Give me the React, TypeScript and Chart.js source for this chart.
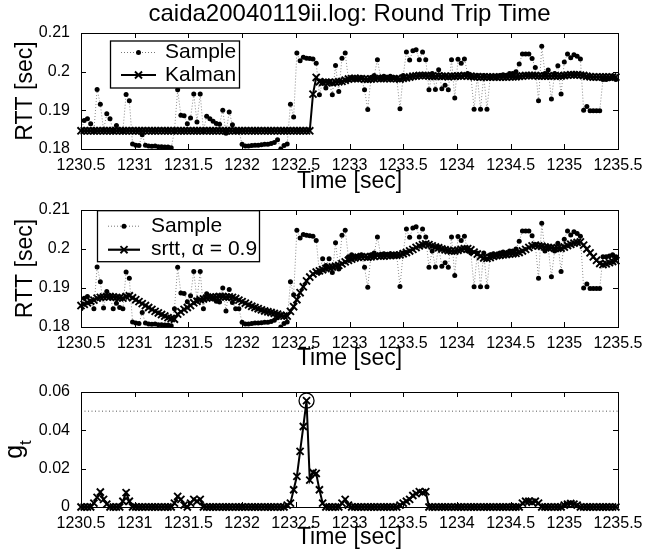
import React, { useEffect, useRef } from "react";
import { Chart, registerables } from "chart.js";

Chart.register(...registerables);
Chart.defaults.font.family = '"Liberation Sans", Arial, Helvetica, sans-serif';
Chart.defaults.color = "#000";

// ---------------- data ----------------
const TITLE = "caida20040119ii.log: Round Trip Time";
const X_LABEL = "Time [sec]";
const RTT_LABEL = "RTT [sec]";
const X_MIN = 1230.5;
const X_MAX = 1235.5;
const X_STEP = 0.5;
const SAMPLE_START = 1230.5;
const SAMPLE_STEP = 0.03;
const RTT_MIN = 0.18;
const RTT_MAX = 0.21;
const RTT_STEP = 0.01;
const G_MIN = 0;
const G_MAX = 0.06;
const G_STEP = 0.02;
const G_THRESHOLD = 0.05;

const sampleRtt = [
  0.1847, 0.1874, 0.1878, 0.1865, 0.1847, 0.1954, 0.1916, 0.1849, 0.1891, 0.1878,
  0.1847, 0.1861, 0.1850, 0.1847, 0.1941, 0.1925, 0.1813, 0.1810, 0.1809, 0.1837,
  0.1810, 0.1808, 0.1807, 0.1808, 0.1806, 0.1806, 0.1805, 0.1805, 0.1803, 0.1847,
  0.1953, 0.1887, 0.1886, 0.1865, 0.1880, 0.1942, 0.1870, 0.1942, 0.1847, 0.1885,
  0.1878, 0.1872, 0.1866, 0.1864, 0.1900, 0.1841, 0.1896, 0.1863, 0.1847, 0.1847,
  0.1812, 0.1808, 0.1808, 0.1809, 0.1810, 0.1810, 0.1811, 0.1812, 0.1812, 0.1814,
  0.1817, 0.1824, 0.1800, 0.1809, 0.1813, 0.1916, 0.1883, 0.2048, 0.2028, 0.2037,
  0.2035, 0.2034, 0.2033, 0.2022, 0.1940, 0.1975, 0.1958, 0.1975, 0.1940, 0.2016,
  0.1949, 0.2035, 0.2048, 0.1980, 0.1985, 0.1980, 0.1982, 0.1985, 0.1953, 0.1902,
  0.1985, 0.1990, 0.2031, 0.1985, 0.1988, 0.1985, 0.1988, 0.1985, 0.1983, 0.1904,
  0.1990, 0.2051, 0.2030, 0.2054, 0.2057, 0.2031, 0.2051, 0.2031, 0.1953, 0.1995,
  0.1954, 0.2005, 0.1956, 0.1965, 0.1953, 0.2031, 0.1932, 0.2032, 0.2022, 0.2033,
  0.1995, 0.1990, 0.1903, 0.1990, 0.1903, 0.1990, 0.1903, 0.1985, 0.1988, 0.1985,
  0.1990, 0.1992, 0.1990, 0.1995, 0.1995, 0.2000, 0.2020, 0.2046, 0.2046, 0.2046,
  0.2034, 0.2011, 0.1925, 0.2066, 0.1995, 0.2004, 0.1929, 0.1995, 0.2015, 0.1942,
  0.2025, 0.2046, 0.2036, 0.2044, 0.2040, 0.2033, 0.1900, 0.1910, 0.1899, 0.1899,
  0.1899, 0.1899, 0.1980, 0.1980, 0.1982, 0.1985, 0.1980,
];

const kalmanRtt = [
  0.1847, 0.1847, 0.1847, 0.1847, 0.1847, 0.1847, 0.1847, 0.1847,
  0.1847, 0.1847, 0.1847, 0.1847, 0.1847, 0.1847, 0.1847, 0.1847,
  0.1847, 0.1847, 0.1847, 0.1847, 0.1847, 0.1847, 0.1847, 0.1847,
  0.1847, 0.1847, 0.1847, 0.1847, 0.1847, 0.1847, 0.1847, 0.1847,
  0.1847, 0.1847, 0.1847, 0.1847, 0.1847, 0.1847, 0.1847, 0.1847,
  0.1847, 0.1847, 0.1847, 0.1847, 0.1847, 0.1847, 0.1847, 0.1847,
  0.1847, 0.1847, 0.1847, 0.1847, 0.1847, 0.1847, 0.1847, 0.1847,
  0.1847, 0.1847, 0.1847, 0.1847, 0.1847, 0.1847, 0.1847, 0.1847,
  0.1847, 0.1847, 0.1847, 0.1847, 0.1847, 0.1847, 0.1847, 0.1847,
  0.1942, 0.1985, 0.1974, 0.1972, 0.1973, 0.1972, 0.1971, 0.1973, 0.1974, 0.1975, 0.1978,
  0.1981, 0.1982, 0.1983, 0.1982, 0.1982, 0.1981, 0.1980, 0.1981, 0.1982, 0.1983,
  0.1982, 0.1982, 0.1983, 0.1982, 0.1982, 0.1982, 0.1981,
  0.1983, 0.1984, 0.1986, 0.1988, 0.1989, 0.1990, 0.1990, 0.1990, 0.1989,
  0.1988, 0.1988, 0.1989, 0.1988, 0.1988, 0.1987, 0.1988, 0.1988, 0.1989, 0.1989, 0.1990,
  0.1989, 0.1988, 0.1987, 0.1987, 0.1986, 0.1986, 0.1986, 0.1986, 0.1986, 0.1986,
  0.1986, 0.1986, 0.1986, 0.1987, 0.1987, 0.1987, 0.1988, 0.1989, 0.1990, 0.1990,
  0.1990, 0.1990, 0.1989, 0.1989, 0.1989, 0.1989, 0.1989, 0.1989, 0.1989, 0.1989,
  0.1990, 0.1991, 0.1992, 0.1992, 0.1992, 0.1991, 0.1990, 0.1988, 0.1987, 0.1986,
  0.1986, 0.1986, 0.1986, 0.1986, 0.1986, 0.1986, 0.1986,
];

const srttRtt = [
  0.1855, 0.1858, 0.1862, 0.1866, 0.1869, 0.1874, 0.1876, 0.1877, 0.1878, 0.1878,
  0.1877, 0.1876, 0.1875, 0.1874, 0.1878, 0.1880, 0.1875, 0.1870, 0.1865, 0.1860,
  0.1855, 0.1850, 0.1845, 0.1840, 0.1836, 0.1832, 0.1828, 0.1824, 0.1822, 0.1820,
  0.1833, 0.1839, 0.1845, 0.1850, 0.1855, 0.1862, 0.1866, 0.1870, 0.1872, 0.1874,
  0.1876, 0.1877, 0.1877, 0.1878, 0.1878, 0.1877, 0.1877, 0.1876, 0.1873, 0.1869,
  0.1865, 0.1861, 0.1857, 0.1853, 0.1850, 0.1847, 0.1844, 0.1841, 0.1839, 0.1837,
  0.1835, 0.1833, 0.1830, 0.1828, 0.1828, 0.1840, 0.1852, 0.1870, 0.1888, 0.1903,
  0.1918, 0.1928, 0.1936, 0.1941, 0.1944, 0.1947, 0.1950, 0.1952, 0.1954, 0.1956,
  0.1958, 0.1962, 0.1967, 0.1971, 0.1974, 0.1977, 0.1979, 0.1980, 0.1980, 0.1979,
  0.1980, 0.1981, 0.1983, 0.1982, 0.1982, 0.1983, 0.1983, 0.1984, 0.1984, 0.1985,
  0.1988, 0.1991, 0.1995, 0.1999, 0.2004, 0.2008, 0.2011, 0.2013, 0.2011, 0.2008,
  0.2005, 0.2003, 0.2000, 0.1998, 0.1996, 0.1995, 0.1995, 0.1997, 0.1999, 0.2001,
  0.2001, 0.1998, 0.1992, 0.1987, 0.1981, 0.1977, 0.1976, 0.1978, 0.1981, 0.1983,
  0.1984, 0.1985, 0.1986, 0.1987, 0.1988, 0.1989, 0.1991, 0.1995, 0.1999, 0.2004,
  0.2008, 0.2010, 0.2008, 0.2007, 0.2005, 0.2004, 0.2003, 0.2002, 0.2002, 0.2002,
  0.2005, 0.2009, 0.2012, 0.2015, 0.2017, 0.2018, 0.2010, 0.2000, 0.1990, 0.1980,
  0.1971, 0.1963, 0.1960, 0.1962, 0.1965, 0.1968, 0.1970,
];

const gT = [
  0, 0, 0, 0,
  0.002, 0.005, 0.0078, 0.004, 0.0015,
  0, 0, 0, 0,
  0.003, 0.0075, 0.003,
  0, 0, 0, 0, 0, 0, 0, 0, 0, 0, 0, 0, 0,
  0.002, 0.0055, 0.004, 0.001, 0, 0.002, 0.004, 0.003, 0.004,
  0, 0, 0, 0, 0, 0, 0, 0, 0, 0, 0, 0, 0, 0, 0, 0, 0, 0, 0, 0, 0, 0, 0, 0, 0, 0,
  0.001, 0.002, 0.009, 0.016, 0.029, 0.042, 0.0555, 0.014, 0.018, 0.0175, 0.009, 0.002,
  0, 0, 0, 0, 0,
  0.002, 0.004, 0.001,
  0, 0, 0, 0, 0, 0, 0, 0, 0, 0, 0, 0, 0, 0, 0,
  0.001, 0.002, 0.003, 0.004, 0.006, 0.007, 0.008, 0.0075, 0.008,
  0, 0, 0, 0, 0, 0, 0, 0, 0, 0, 0, 0, 0, 0, 0, 0, 0, 0, 0, 0, 0, 0, 0, 0, 0, 0, 0, 0, 0,
  0.002, 0.003, 0.003, 0.0025, 0.003, 0.002,
  0, 0, 0, 0, 0, 0, 0,
  0.001, 0.0015, 0.0018, 0.0015, 0.001,
  0, 0, 0, 0, 0, 0, 0, 0, 0, 0, 0, 0,
];

// ---------------- helpers ----------------
const FONT = '"Liberation Sans", Arial, Helvetica, sans-serif';
const MARK_R = 5;
const MARK_W = 1.9;
const toPoints = (vals: number[]) =>
  vals.map((y, i) => ({ x: +(SAMPLE_START + i * SAMPLE_STEP).toFixed(3), y }));

function drawCrossRot(ctx: any, x: number, y: number, r: number, w: number) {
  const o = r * Math.SQRT1_2;
  ctx.save();
  ctx.strokeStyle = "#000";
  ctx.lineWidth = w;
  ctx.setLineDash([]);
  ctx.beginPath();
  ctx.moveTo(x - o, y - o);
  ctx.lineTo(x + o, y + o);
  ctx.moveTo(x + o, y - o);
  ctx.lineTo(x - o, y + o);
  ctx.stroke();
  ctx.restore();
}

function decoPlugin(cfg: any) {
  return {
    id: "deco",
    afterDraw(chart: any) {
      const { ctx, chartArea: a, scales } = chart;
      const xs = scales.x;
      const ys = scales.y;
      ctx.save();
      ctx.strokeStyle = "#000";
      ctx.lineWidth = 1;
      ctx.setLineDash([]);
      ctx.beginPath();
      xs.ticks.forEach((t: any) => {
        const p = Math.round(xs.getPixelForValue(t.value)) + 0.5;
        ctx.moveTo(p, a.bottom);
        ctx.lineTo(p, a.bottom - 5);
        ctx.moveTo(p, a.top);
        ctx.lineTo(p, a.top + 5);
      });
      ys.ticks.forEach((t: any) => {
        const p = Math.round(ys.getPixelForValue(t.value)) + 0.5;
        ctx.moveTo(a.left, p);
        ctx.lineTo(a.left + 5, p);
        ctx.moveTo(a.right, p);
        ctx.lineTo(a.right - 5, p);
      });
      ctx.stroke();
      ctx.strokeRect(
        Math.round(a.left) + 0.5,
        Math.round(a.top) + 0.5,
        Math.round(a.right - a.left),
        Math.round(a.bottom - a.top)
      );

      if (cfg.legend) {
        const L = cfg.legend;
        const bx = a.left + L.dx;
        const by = a.top + L.dy;
        ctx.fillStyle = "#fff";
        ctx.fillRect(bx, by, L.w, L.h);
        ctx.lineWidth = 1.3;
        ctx.strokeStyle = "#000";
        ctx.strokeRect(bx, by, L.w, L.h);
        L.items.forEach((it: any, k: number) => {
          const cy = by + L.rows[k];
          const x1 = bx + L.lineX[0];
          const x2 = bx + L.lineX[1];
          const mx = (x1 + x2) / 2;
          ctx.beginPath();
          if (it.kind === "sample") {
            ctx.strokeStyle = "#777";
            ctx.lineWidth = 1;
            ctx.setLineDash([1, 2]);
          } else {
            ctx.strokeStyle = "#000";
            ctx.lineWidth = 2.2;
            ctx.setLineDash([]);
          }
          ctx.moveTo(x1, cy);
          ctx.lineTo(x2, cy);
          ctx.stroke();
          ctx.setLineDash([]);
          if (it.kind === "sample") {
            ctx.fillStyle = "#000";
            ctx.beginPath();
            ctx.arc(mx, cy, 2.5, 0, Math.PI * 2);
            ctx.fill();
          } else {
            drawCrossRot(ctx, mx, cy, MARK_R, MARK_W);
          }
          ctx.fillStyle = "#000";
          ctx.font = `21px ${FONT}`;
          ctx.textBaseline = "middle";
          ctx.textAlign = "left";
          ctx.fillText(it.text, bx + L.textX, cy);
        });
      }

      if (cfg.gLabel) {
        const cy = (a.top + a.bottom) / 2;
        ctx.translate(22, cy);
        ctx.rotate(-Math.PI / 2);
        ctx.fillStyle = "#000";
        ctx.textBaseline = "alphabetic";
        ctx.textAlign = "left";
        ctx.font = `25px ${FONT}`;
        const gw = ctx.measureText("g").width;
        ctx.font = `17px ${FONT}`;
        const tw = ctx.measureText("t").width;
        const start = -(gw + tw) / 2;
        ctx.font = `25px ${FONT}`;
        ctx.fillText("g", start, 0);
        ctx.font = `17px ${FONT}`;
        ctx.fillText("t", start + gw, 9);
      }
      ctx.restore();
    },
  };
}

function xScale(height: number) {
  return {
    type: "linear",
    min: X_MIN,
    max: X_MAX,
    grid: { display: false },
    border: { display: false },
    ticks: {
      stepSize: X_STEP,
      autoSkip: false,
      maxRotation: 0,
      padding: -1,
      color: "#000",
      font: { size: 16 },
      callback: (v: any) => String(Math.round(Number(v) * 10) / 10),
    },
    title: {
      display: true,
      text: X_LABEL,
      color: "#000",
      font: { size: 23 },
      padding: { top: 0, bottom: 0 },
    },
    afterFit: (s: any) => {
      s.height = height;
      s.paddingLeft = 0;
      s.paddingRight = 0;
    },
  };
}

function yScale(min: number, max: number, step: number, label: string | null) {
  return {
    type: "linear",
    min,
    max,
    grid: { display: false },
    border: { display: false },
    ticks: {
      stepSize: step,
      padding: 3,
      color: "#000",
      font: { size: 16 },
      callback: (v: any) => String(Math.round(Number(v) * 1000) / 1000),
    },
    title: {
      display: !!label,
      text: label || "",
      color: "#000",
      font: { size: 23 },
      padding: { top: 12, bottom: 0 },
    },
    afterFit: (s: any) => {
      s.width = 81;
      s.paddingTop = 0;
      s.paddingBottom = 0;
    },
  };
}

const sampleDataset = () => ({
  label: "Sample",
  data: toPoints(sampleRtt),
  borderColor: "#888",
  borderWidth: 1,
  borderDash: [1, 2],
  pointStyle: "circle",
  pointRadius: 2.5,
  pointBackgroundColor: "#000",
  pointBorderColor: "#000",
  pointBorderWidth: 0,
  tension: 0,
  order: 2,
});

const markLine = (label: string, vals: number[]) => ({
  label,
  data: toPoints(vals),
  borderColor: "#000",
  borderWidth: 2,
  pointStyle: "crossRot",
  pointRadius: MARK_R,
  pointBorderColor: "#000",
  pointBorderWidth: MARK_W,
  tension: 0,
  clip: false,
  order: 1,
});

const baseOptions = (padding: any, xH: number, y: any, title: any) => ({
  animation: false,
  responsive: false,
  events: [],
  layout: { padding },
  plugins: {
    legend: { display: false },
    tooltip: { enabled: false },
    title,
  },
  scales: { x: xScale(xH), y },
});

function buildTop() {
  return {
    type: "line",
    data: { datasets: [sampleDataset(), markLine("Kalman", kalmanRtt)] },
    options: baseOptions(
      { top: 0, bottom: 1, left: 0, right: 45 },
      46,
      yScale(RTT_MIN, RTT_MAX, RTT_STEP, RTT_LABEL),
      {
        display: true,
        text: TITLE,
        color: "#000",
        fullSize: false,
        font: { size: 24, weight: "normal" },
        padding: { top: 0, bottom: 4.2 },
      }
    ),
    plugins: [
      decoPlugin({
        legend: {
          dx: 29.5,
          dy: 8,
          w: 129,
          h: 47,
          rows: [11.5, 34],
          lineX: [10.5, 45.5],
          textX: 54.5,
          items: [
            { kind: "sample", text: "Sample" },
            { kind: "line", text: "Kalman" },
          ],
        },
      }),
    ],
  };
}

function buildMid() {
  return {
    type: "line",
    data: { datasets: [sampleDataset(), markLine("srtt, α = 0.9", srttRtt)] },
    options: baseOptions(
      { top: 14, bottom: 0, left: 0, right: 45 },
      45,
      yScale(RTT_MIN, RTT_MAX, RTT_STEP, RTT_LABEL),
      { display: false }
    ),
    plugins: [
      decoPlugin({
        legend: {
          dx: 16.5,
          dy: 0.7,
          w: 162,
          h: 51,
          rows: [15.5, 39],
          lineX: [10.5, 42.5],
          textX: 53.5,
          items: [
            { kind: "sample", text: "Sample" },
            { kind: "line", text: "srtt, α = 0.9" },
          ],
        },
      }),
    ],
  };
}

function buildBottom() {
  const pts = toPoints(gT);
  let peak = pts[0];
  pts.forEach((p) => {
    if (p.y > peak.y) peak = p;
  });
  return {
    type: "line",
    data: {
      datasets: [
        markLine("g", gT),
        {
          label: "threshold",
          data: [
            { x: X_MIN, y: G_THRESHOLD },
            { x: X_MAX, y: G_THRESHOLD },
          ],
          borderColor: "#555",
          borderWidth: 1,
          borderDash: [1, 2.5],
          pointRadius: 0,
          order: 3,
        },
        {
          label: "peak",
          data: [peak],
          showLine: false,
          pointStyle: "circle",
          pointRadius: 7.5,
          pointBackgroundColor: "rgba(0,0,0,0)",
          pointBorderColor: "#000",
          pointBorderWidth: 1.3,
          clip: false,
          order: 0,
        },
      ],
    },
    options: baseOptions(
      { top: 20, bottom: 9, left: 0, right: 45 },
      44,
      yScale(G_MIN, G_MAX, G_STEP, null),
      { display: false }
    ),
    plugins: [decoPlugin({ gLabel: true })],
  };
}

function ChartCanvas({ top, height, build }: { top: number; height: number; build: () => any }) {
  const ref = useRef<HTMLCanvasElement | null>(null);
  useEffect(() => {
    const c = new Chart(ref.current as HTMLCanvasElement, build());
    return () => c.destroy();
  }, []);
  return (
    <canvas
      ref={ref}
      width={663}
      height={height}
      style={{ position: "absolute", left: 0, top, width: 663, height }}
    />
  );
}

export default function App() {
  return (
    <div
      style={{
        position: "absolute",
        left: 0,
        top: 0,
        width: 663,
        height: 560,
        background: "#fff",
        overflow: "hidden",
      }}
    >
      <ChartCanvas top={0} height={196} build={buildTop} />
      <ChartCanvas top={196} height={176} build={buildMid} />
      <ChartCanvas top={372} height={188} build={buildBottom} />
    </div>
  );
}
